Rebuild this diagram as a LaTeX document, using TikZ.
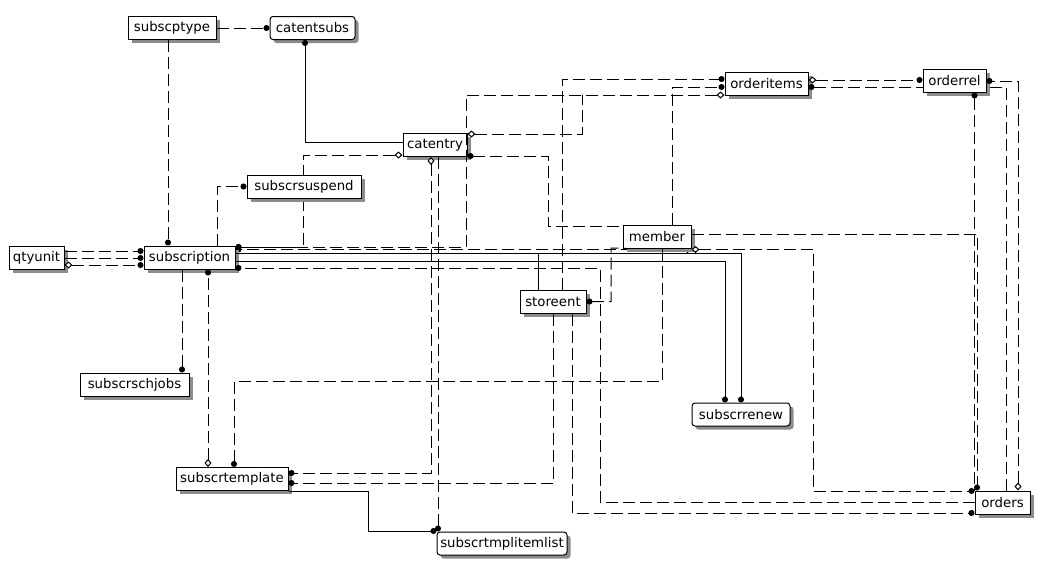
\documentclass[tikz,border=0pt]{standalone}
\usepackage{fontspec}
\setmainfont{DejaVu Sans}
\usetikzlibrary{arrows.meta,shadows,backgrounds}
\begin{document}
\begin{tikzpicture}[x=1pt,y=-1pt,line join=miter,
  ent/.style={draw,fill=white,line width=1pt,minimum height=23pt,inner sep=3pt,
    font=\fontsize{13.3}{15}\selectfont,
    drop shadow={shadow xshift=3.5pt,shadow yshift=-3.5pt,fill=black!45,opacity=1}},
  dep/.style={ent,rounded corners=3pt},
  rel/.style={line width=1pt,dash pattern=on 12pt off 5pt},
  idrel/.style={line width=1pt},
  fk/.tip={Circle[length=6pt]},
  nul/.tip={Diamond[length=8pt,width=7pt,fill=white]}]
  \useasboundingbox (0,0) rectangle (1044,562);
  \node[ent,minimum width=88pt] (subscptype) at (172,28) {subscptype};
  \node[dep,minimum width=85pt] (catentsubs) at (312.5,28) {catentsubs};
  \node[ent,minimum width=64pt] (catentry) at (435,145) {catentry};
  \node[ent,minimum width=114pt] (subscrsuspend) at (304,186.5) {subscrsuspend};
  \node[ent,minimum width=55pt] (qtyunit) at (36.5,258) {qtyunit};
  \node[ent,minimum width=91pt] (subscription) at (189.5,257.5) {subscription};
  \node[ent,minimum width=83pt] (orderitems) at (766.5,84) {orderitems};
  \node[ent,minimum width=63pt] (orderrel) at (954.5,80.5) {orderrel};
  \node[ent,minimum width=68pt] (member) at (657,236.5) {member};
  \node[ent,minimum width=66pt] (storeent) at (553,301.5) {storeent};
  \node[ent,minimum width=109pt] (subscrschjobs) at (134.5,384.5) {subscrschjobs};
  \node[dep,minimum width=98pt] (subscrrenew) at (741,414.5) {subscrrenew};
  \node[ent,minimum width=112pt] (subscrtemplate) at (232,479) {subscrtemplate};
  \node[dep,minimum width=130pt] (subscrtmplitemlist) at (502,543.5) {subscrtmplitemlist};
  \node[ent,minimum width=55pt] (orders) at (1002.5,502.5) {orders};
  \coordinate (cj) at (582,95);
  \coordinate (sj) at (538,253);
  \begin{scope}[on background layer]
    \draw[rel,nul-fk] (catentry.west |- 0,155) -| (303,247) -- (subscription.east |- 0,247);
    \draw[rel,nul-fk] (member.east |- 0,249.5) -- (subscription.east |- 0,249.5);
  \end{scope}
  \draw[rel,fk-] (storeent.east) -| (611,248) -- (member.south -| 627,0);
  \draw[rel,-fk] (subscptype) -- (catentsubs);
  \draw[idrel,fk-] (catentsubs.south -| 305,0) |- (catentry.west |- 0,142);
  \draw[rel,-fk] (subscptype.south -| 168,0) -- (subscription.north -| 168,0);
  \draw[rel,-fk] (subscription.north -| 217,0) |- (subscrsuspend.west);
  \draw[rel,nul-fk] (orderitems.west |- 0,95) -| (466,247) -- (subscription.east |- 0,247);
  \draw[rel,nul-fk] (member.east |- 0,249.5) -| (813,491) -- (orders.west |- 0,491);
  \draw[rel,-fk] (member.east |- 0,234) -| (orders.north -| 977,0);
  \draw[rel,fk-] (orderrel.south -| 974.5,0) -- (orders.north -| 974.5,0);
  \draw[rel,nul-fk] (orders.north -| 1018,0) |- (orderrel.east |- 0,81);
  \draw[rel] (orders.north -| 1006,0) |- (orderrel.east |- 0,87);
  \draw[rel,nul-fk] (orderitems.east |- 0,80) -- (orderrel.west |- 0,80);
  \draw[rel,fk-] (orderitems.east |- 0,87) -- (orderrel.west |- 0,87);
  \draw[rel,-fk] (storeent.north -| 562,0) |- (orderitems.west |- 0,79);
  \draw[rel,-fk] (member.north -| 672,0) |- (orderitems.west |- 0,87);
  \draw[rel,nul-] (catentry.east |- 0,134) -| (cj);
  \draw[rel,fk-] (catentry.east |- 0,156) -| (548,226) -- (member.west |- 0,226);
  \draw[rel,nul-fk] (catentry.south -| 431,0) |- (subscrtemplate.east |- 0,473);
  \draw[rel,-fk] (catentry.south -| 438,0) -- (subscrtmplitemlist.north -| 438,0);
  \draw[idrel,-fk] (subscrtemplate.south east) -| (368,531) -- (subscrtmplitemlist.west |- 0,531);
  \draw[rel,-fk] (storeent.south -| 553,0) |- (subscrtemplate.east |- 0,483);
  \draw[rel,nul-fk] (subscrtemplate.north -| 208,0) -- (subscription.south -| 208,0);
  \draw[rel,-fk] (member.south -| 662,0) |- (234,381) -- (subscrtemplate.north -| 234,0);
  \draw[rel,-fk] (subscription.south -| 182,0) -- (subscrschjobs.north -| 182,0);
  \draw[rel,-fk] (orders.west |- 0,502) -| (600,268) -- (subscription.east |- 0,268);
  \draw[rel,-fk] (storeent.south -| 572,0) |- (orders.west |- 0,513);
  \draw[idrel,-fk] (subscription.east |- 0,253) -| (subscrrenew.north -| 741,0);
  \draw[idrel,-fk] (subscription.east |- 0,261) -| (subscrrenew.north -| 725,0);
  \draw[idrel] (storeent.north -| 538,0) -- (sj);
  \draw[rel,-fk] (qtyunit.east |- 0,251) -- (subscription.west |- 0,251);
  \draw[rel,-fk] (qtyunit.east |- 0,258) -- (subscription.west |- 0,258);
  \draw[rel,nul-fk] (qtyunit.east |- 0,265) -- (subscription.west |- 0,265);
\end{tikzpicture}
\end{document}
